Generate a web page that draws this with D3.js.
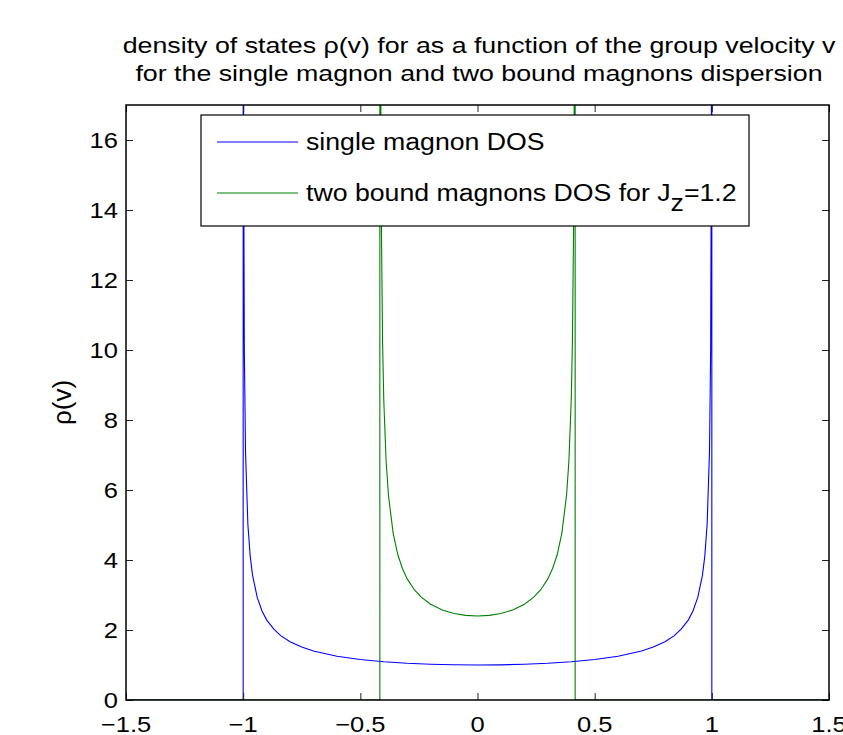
<!DOCTYPE html>
<html>
<head>
<meta charset="utf-8">
<script src="https://cdn.jsdelivr.net/npm/d3@7"></script>
<style>
html,body{margin:0;padding:0;background:#fff;}
svg{display:block;}
text{font-family:"Liberation Sans",Arial,Helvetica,sans-serif;fill:#000;}
</style>
</head>
<body>
<svg id="chart" width="843" height="735"></svg>
<script>
// ---- data ----
const titleLines = [
  "density of states \u03c1(v) for as a function of the group velocity v",
  "for the single magnon and two bound magnons dispersion"
];
const yLabel = "\u03c1(v)";
const xTicks = [-1.5, -1, -0.5, 0, 0.5, 1, 1.5];
const xTickLabels = ["\u22121.5", "\u22121", "\u22120.5", "0", "0.5", "1", "1.5"];
const yTicks = [0, 2, 4, 6, 8, 10, 12, 14, 16];
const seriesNames = ["single magnon DOS", "two bound magnons DOS for J", "z", "=1.2"];

// single magnon DOS: velocity v and density rho(v)
const singleV = [-1.5, -1.0, -0.9999, -0.9995, -0.998, -0.995, -0.99, -0.98, -0.97, -0.96, -0.94, -0.92, -0.9, -0.87, -0.84, -0.8, -0.75, -0.7, -0.6, -0.5, -0.4, -0.3, -0.2, -0.1, 0,
                 0.1, 0.2, 0.3, 0.4, 0.5, 0.6, 0.7, 0.75, 0.8, 0.84, 0.87, 0.9, 0.92, 0.94, 0.96, 0.97, 0.98, 0.99, 0.995, 0.998, 0.9995, 0.9999, 1.0, 1.5];
const singleRho = [0, 0, 70.7, 31.6, 15.8, 10.01, 7.09, 5.03, 4.11, 3.57, 2.93, 2.55, 2.29, 2.03, 1.84, 1.667, 1.512, 1.40, 1.25, 1.155, 1.091, 1.048, 1.021, 1.005, 1.0,
                   1.005, 1.021, 1.048, 1.091, 1.155, 1.25, 1.40, 1.512, 1.667, 1.84, 2.03, 2.29, 2.55, 2.93, 3.57, 4.11, 5.03, 7.09, 10.01, 15.8, 31.6, 70.7, 0, 0];

// two bound magnons DOS (Jz = 1.2)
const boundV = [-1.5, -0.4167, -0.4166, -0.416, -0.415, -0.414, -0.413, -0.412, -0.41, -0.405, -0.40, -0.39, -0.38, -0.36, -0.34, -0.32, -0.30, -0.27, -0.24, -0.20, -0.15, -0.10, -0.05, 0,
                0.05, 0.10, 0.15, 0.20, 0.24, 0.27, 0.30, 0.32, 0.34, 0.36, 0.38, 0.39, 0.40, 0.405, 0.41, 0.412, 0.413, 0.414, 0.415, 0.416, 0.4166, 0.4167, 1.5];
const boundRho = [0, 0, 134, 42.4, 26.9, 21.2, 18.1, 16.08, 13.47, 10.21, 8.57, 6.82, 5.85, 4.77, 4.15, 3.75, 3.46, 3.15, 2.94, 2.736, 2.573, 2.472, 2.418, 2.4,
                  2.418, 2.472, 2.573, 2.736, 2.94, 3.15, 3.46, 3.75, 4.15, 4.77, 5.85, 6.82, 8.57, 10.21, 13.47, 16.08, 18.1, 21.2, 26.9, 42.4, 134, 0, 0];

const colors = ["#0000ff", "#008000"];

// ---- layout ----
const W = 843, H = 735;
const m = {left: 126, right: 829, top: 105, bottom: 700};
const SX = 1.16; // horizontal stretch of the reference text

const svg = d3.select("#chart");
const x = d3.scaleLinear().domain([-1.5, 1.5]).range([m.left, m.right]);
const y = d3.scaleLinear().domain([0, 17]).range([m.bottom, m.top]);

function stretchedText(parent, tx, ty, str, size, anchor, sx) {
  const g = parent.append("g").attr("transform", `translate(${tx},${ty}) scale(${sx || SX},1)`);
  return g.append("text").attr("x", 0).attr("y", 0)
    .attr("font-size", size).attr("text-anchor", anchor || "start").text(str);
}

svg.append("rect").attr("width", W).attr("height", H).attr("fill", "#fff");

// title
const titleY = [53, 81];
titleLines.forEach((t, i) => {
  stretchedText(svg, 479, titleY[i], t, 22.3, "middle", 1.2);
});

// clip
svg.append("clipPath").attr("id", "clip").append("rect")
  .attr("x", m.left).attr("y", m.top).attr("width", m.right - m.left).attr("height", m.bottom - m.top);

const line = d3.line().x(d => x(d[0])).y(d => y(d[1]));
const plot = svg.append("g").attr("clip-path", "url(#clip)");
plot.append("path").datum(d3.zip(singleV, singleRho))
  .attr("d", line).attr("fill", "none").attr("stroke", colors[0]).attr("stroke-width", 1.1);
plot.append("path").datum(d3.zip(boundV, boundRho))
  .attr("d", line).attr("fill", "none").attr("stroke", colors[1]).attr("stroke-width", 1.1);

// axes with inward ticks
const tickLen = 7;
const axB = svg.append("g").attr("transform", `translate(0,${m.bottom})`)
  .call(d3.axisBottom(x).tickValues(xTicks).tickSize(-tickLen).tickFormat(""));
const axT = svg.append("g").attr("transform", `translate(0,${m.top})`)
  .call(d3.axisTop(x).tickValues(xTicks).tickSize(-tickLen).tickFormat(""));
const axL = svg.append("g").attr("transform", `translate(${m.left},0)`)
  .call(d3.axisLeft(y).tickValues(yTicks).tickSize(-tickLen).tickFormat(""));
const axR = svg.append("g").attr("transform", `translate(${m.right},0)`)
  .call(d3.axisRight(y).tickValues(yTicks).tickSize(-tickLen).tickFormat(""));
[axB, axT, axL, axR].forEach(a => {
  a.select(".domain").remove();
  a.selectAll(".tick line").attr("stroke", "#222").attr("stroke-width", 1);
});
svg.append("rect").attr("x", m.left).attr("y", m.top)
  .attr("width", m.right - m.left).attr("height", m.bottom - m.top)
  .attr("fill", "none").attr("stroke", "#000").attr("stroke-width", 1.5);

// tick labels
xTicks.forEach((v, i) => {
  stretchedText(svg, x(v), 732, xTickLabels[i], 22, "middle");
});
yTicks.forEach(v => {
  stretchedText(svg, 118, y(v) + 8, String(v), 22, "end");
});

// y label
svg.append("text").attr("transform", `translate(71,${(m.top + m.bottom) / 2}) rotate(-90)`)
  .attr("font-size", 26).attr("text-anchor", "middle").text(yLabel);

// legend
const leg = svg.append("g");
leg.append("rect").attr("x", 201).attr("y", 115).attr("width", 548).attr("height", 111)
  .attr("fill", "#fff").attr("stroke", "#000").attr("stroke-width", 1.2);
const legY = [142, 193];
legY.forEach((ly, i) => {
  leg.append("line").attr("x1", 217).attr("x2", 298).attr("y1", ly).attr("y2", ly)
    .attr("stroke", colors[i]).attr("stroke-width", 1.1);
});
stretchedText(leg, 306, legY[0] + 8, seriesNames[0], 23, "start");
const t2 = stretchedText(leg, 306, legY[1] + 8, "", 23, "start");
t2.append("tspan").text(seriesNames[1]);
t2.append("tspan").attr("dy", 10).text(seriesNames[2]);
t2.append("tspan").attr("dy", -10).text(seriesNames[3]);
</script>
</body>
</html>
